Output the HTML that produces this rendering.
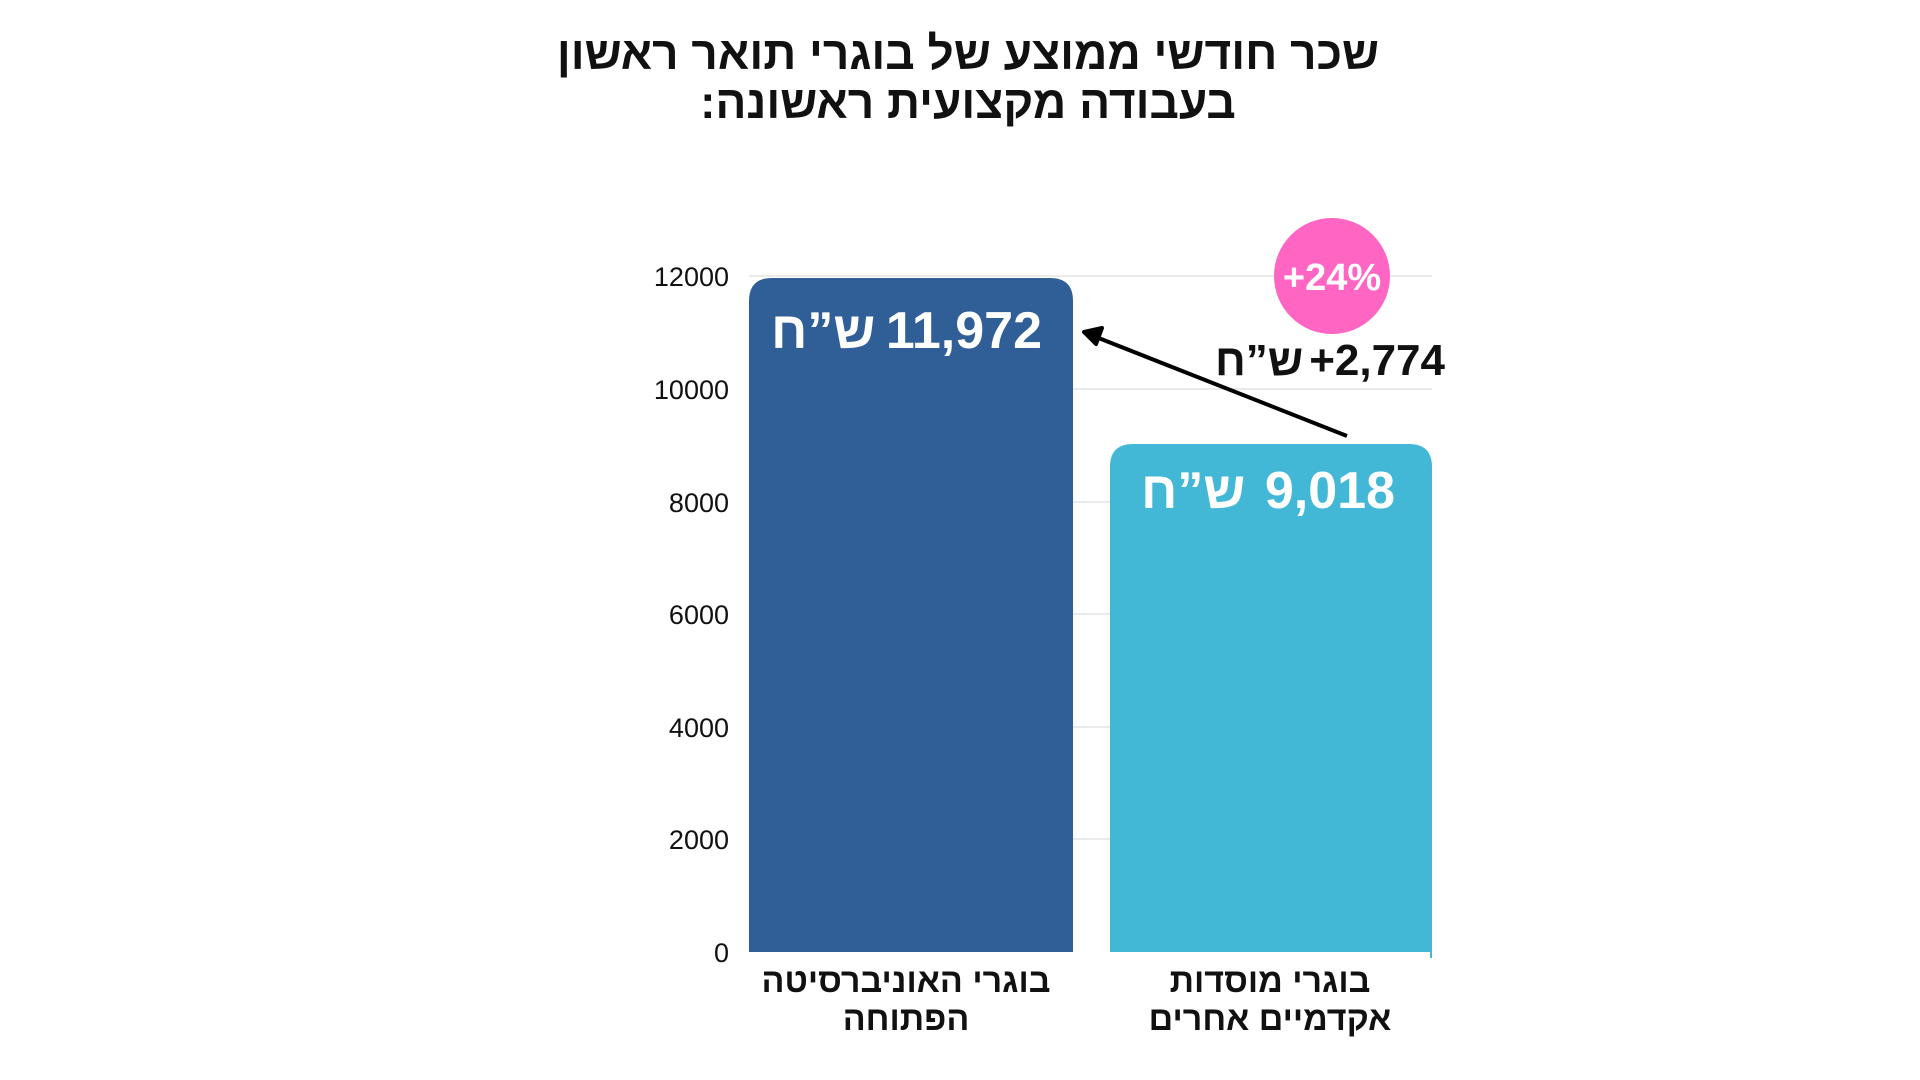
<!DOCTYPE html>
<html><head><meta charset="utf-8"><style>
html,body{margin:0;padding:0;background:#fff;}
svg{display:block;}
text{font-family:"Liberation Sans","DejaVu Sans",sans-serif;}
</style></head><body>
<svg width="1920" height="1080" viewBox="0 0 1920 1080" xmlns="http://www.w3.org/2000/svg">
<g transform="translate(-4,-3)">
<text x="972" y="72" font-size="46" font-weight="bold" text-anchor="middle" direction="rtl" fill="#111">שכר חודשי ממוצע של בוגרי תואר ראשון</text>
<text x="972" y="121" font-size="46" font-weight="bold" text-anchor="middle" direction="rtl" fill="#111">בעבודה מקצועית ראשונה:</text>
<g stroke="#e3e3e3" stroke-width="1.5">
<line x1="753" x2="1436" y1="279" y2="279"/>
<line x1="753" x2="1436" y1="392" y2="392"/>
<line x1="753" x2="1436" y1="505" y2="505"/>
<line x1="753" x2="1436" y1="617" y2="617"/>
<line x1="753" x2="1436" y1="730" y2="730"/>
<line x1="753" x2="1436" y1="842" y2="842"/>
</g>
<g font-size="27" fill="#111" text-anchor="end">
<text x="733" y="289">12000</text>
<text x="733" y="402">10000</text>
<text x="733" y="515">8000</text>
<text x="733" y="627">6000</text>
<text x="733" y="740">4000</text>
<text x="733" y="852">2000</text>
<text x="733" y="965">0</text>
</g>
<path d="M753,955 V304 Q753,281 776,281 H1054 Q1077,281 1077,304 V955 Z" fill="#2f5f96"/>
<path d="M1114,955 V470 Q1114,447 1137,447 H1413 Q1436,447 1436,470 V955 Z" fill="#42b7d6"/>
<line x1="1435" y1="940" x2="1435" y2="961" stroke="#42b7d6" stroke-width="2"/>
<g font-size="52" font-weight="bold" fill="#fff">
<text x="775" y="351">ש”ח</text>
<text x="1046" y="351" text-anchor="end">11,972</text>
<text x="1145" y="511">ש”ח</text>
<text x="1399" y="511" text-anchor="end">9,018</text>
</g>
<circle cx="1336" cy="279" r="58" fill="#ff66c4"/>
<text x="1336" y="293" font-size="38" font-weight="bold" fill="#fff" text-anchor="middle">+24%</text>
<g font-size="44" font-weight="bold" fill="#111">
<text x="1219" y="378">ש”ח</text>
<text x="1449" y="378" text-anchor="end">+2,774</text>
</g>
<line x1="1351" y1="439" x2="1100" y2="340" stroke="#000" stroke-width="4"/>
<path d="M1088,335 L1106,331 L1100,347 Z" fill="#000" stroke="#000" stroke-width="4" stroke-linejoin="round"/>
<g font-size="34" font-weight="bold" fill="#111" text-anchor="middle" direction="rtl">
<text x="910" y="995">בוגרי האוניברסיטה</text>
<text x="910" y="1033">הפתוחה</text>
<text x="1274" y="995">בוגרי מוסדות</text>
<text x="1274" y="1033">אקדמיים אחרים</text>
</g>
</g>
</svg>
</body></html>
